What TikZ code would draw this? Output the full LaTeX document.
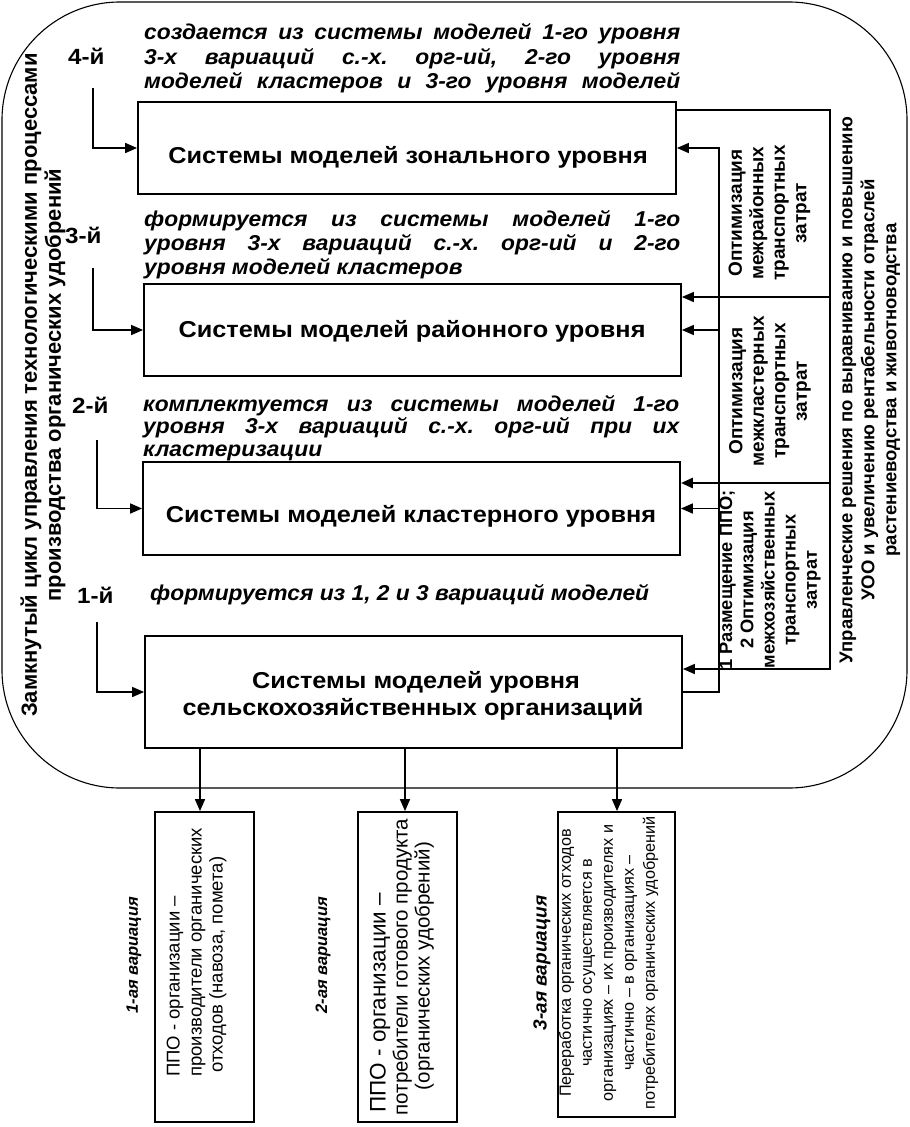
\documentclass[tikz,border=0pt]{standalone}
\usepackage{fontspec}
\setmainfont{Liberation Sans}
\newfontfamily\boxfont{Liberation Sans}[FakeStretch=1.1]
\newfontfamily\italfont{Liberation Sans}[FakeStretch=1.06]
\newfontfamily\lvlfont{Liberation Sans}[FakeStretch=1.1]
\usetikzlibrary{arrows.meta}
\begin{document}
\begin{tikzpicture}[x=1pt,y=-1pt,
  box/.style={draw, line width=1.8pt, inner sep=0pt},
  conn/.style={line width=1.6pt},
  arr/.style={conn, -{Triangle[length=12pt,width=10pt]}},
  thickarr/.style={line width=2.6pt, -{Triangle[length=12pt,width=10pt]}},
  ital/.style={font=\italfont\fontsize{21.5}{25}\selectfont\bfseries\itshape\frenchspacing, inner sep=0pt, anchor=base west},
  lvl/.style={font=\lvlfont\fontsize{22}{25}\selectfont\bfseries, inner sep=0pt, anchor=base west},
  boxtext/.style={font=\boxfont\fontsize{23}{27}\selectfont\bfseries, inner sep=0pt, anchor=base},
  celltext/.style={font=\fontsize{19}{21.5}\selectfont\bfseries, inner sep=0pt, rotate=90, align=center},
  sidetext/.style={font=\fontsize{18.5}{22}\selectfont\bfseries, inner sep=0pt, rotate=90, align=center},
  lefttext/.style={font=\fontsize{22}{24}\selectfont\bfseries, inner sep=0pt, rotate=90, align=center},
  vartext/.style={font=\fontsize{18.5}{21.5}\selectfont, inner sep=0pt, rotate=90},
  varlabel/.style={font=\fontsize{16.5}{20}\selectfont\bfseries\itshape, inner sep=0pt, rotate=90}
]
\useasboundingbox (0,0) rectangle (910,1127);
\fill[white] (0,0) rectangle (910,1127);

% outer frame
\draw[line width=1.1pt, rounded corners=118pt] (2,2) rectangle (907,788);

% main boxes
\node[box, minimum width=538pt, minimum height=92pt] (b4) at (407,148) {};
\node[box, minimum width=537pt, minimum height=92pt] (b3) at (412.5,330) {};
\node[box, minimum width=537pt, minimum height=93pt] (b2) at (411.5,508.5) {};
\node[box, minimum width=537pt, minimum height=112pt] (b1) at (413.5,692) {};

\node[boxtext] (b4t) at (408,163) {Системы моделей зонального уровня};
\node[boxtext] (b3t) at (412,337) {Системы моделей районного уровня};
\node[boxtext] (b2t) at (411,522) {Системы моделей кластерного уровня};
\node[boxtext] (b1t) at (416,688) {Системы моделей уровня};
\node[boxtext] (b1u) at (413,715) {сельскохозяйственных организаций};

% level labels
\node[lvl] (n4) at (68,64) {4-й};
\node[lvl] (n3) at (65,243) {3-й};
\node[lvl] (n2) at (72,413) {2-й};
\node[lvl] (n1) at (77,603) {1-й};

\coordinate (s4) at (93,88);
\coordinate (s3) at (93,268);
\coordinate (s2) at (97,440);
\coordinate (s1) at (97,622);
\draw[arr] (s4) |- (b4.west);
\draw[arr] (s3) |- (b3.west);
\draw[arr] (s2) |- (b2.west);
\draw[arr] (s1) |- (b1.west);

% italic descriptions
\node[ital] (t4a) at (144,39) {\makebox[536pt][s]{создается из системы моделей 1-го уровня}};
\node[ital] (t4b) at (144,64) {\makebox[536pt][s]{3-х вариаций с.-х. орг-ий, 2-го уровня}};
\node[ital] (t4c) at (144,88) {\makebox[536pt][s]{моделей кластеров и 3-го уровня моделей}};

\node[ital] (t3a) at (144,226) {\makebox[536pt][s]{формируется из системы моделей 1-го}};
\node[ital] (t3b) at (144,250) {\makebox[536pt][s]{уровня 3-х вариаций с.-х. орг-ий и 2-го}};
\node[ital] (t3c) at (144,274) {уровня моделей кластеров};

\node[ital] (t2a) at (143,411) {\makebox[536pt][s]{комплектуется из системы моделей 1-го}};
\node[ital] (t2b) at (143,433) {\makebox[536pt][s]{уровня 3-х вариаций с.-х. орг-ий при их}};
\node[ital] (t2c) at (143,456) {кластеризации};

\node[ital] (t1a) at (150,600) {формируется из 1, 2 и 3 вариаций моделей};

% feedback tree A (x = 719)
\coordinate (aTop) at (719,148);
\coordinate (aB3) at (719,330);
\coordinate (aB2) at (719,508.5);
\draw[arr] (b1.east) -| (aTop) -- (aTop -| b4.east);
\draw[arr] (aB3) -- (b3.east);
\draw[arr] (aB2) -- (b2.east);

% feedback tree B (x = 830)
\coordinate (bTop) at (830,110);
\coordinate (bB3) at (830,297);
\coordinate (bB2) at (830,483);
\coordinate (bBot) at (830,669);
\draw[arr] (bTop -| b4.east) -- (bTop) -- (bBot) -- (bBot -| b1.east);
\draw[arr] (bB3) -- (bB3 -| b3.east);
\draw[thickarr] (bB2) -- (bB2 -| b2.east);

% cell texts
\node[celltext] (c1) at (769.5,213) {Оптимизация\\межрайонных\\транспортных\\затрат};
\node[celltext] (c2) at (770,391) {Оптимизация\\межкластерных\\транспортных\\затрат};
\node[celltext, font=\fontsize{18.3}{21.2}\selectfont\bfseries] (c3) at (770,580) {1 Размещение ППО;\\2 Оптимизация\\межхозяйственных\\транспортных\\затрат};

\node[sidetext] (rt) at (870,390) {Управленческие решения по выравниванию и повышению\\УОО и увеличению рентабельности отраслей\\растениеводства и животноводства};

\node[lefttext] (lt) at (43,385) {Замкнутый цикл управления технологическими процессами\\производства органических удобрений};

% bottom boxes
\node[box, minimum width=99pt, minimum height=310pt] (v1) at (204.5,967) {};
\node[box, minimum width=99pt, minimum height=310pt] (v2) at (407.5,967) {};
\node[box, minimum width=117pt, minimum height=305pt] (v3) at (616.5,964.5) {};

\coordinate (x1) at (200,0);
\coordinate (x2) at (405,0);
\coordinate (x3) at (617,0);
\draw[arr] (b1.south -| x1) -- (v1.north -| x1);
\draw[arr] (b1.south -| x2) -- (v2.north -| x2);
\draw[arr] (b1.south -| x3) -- (v3.north -| x3);

\node[vartext, anchor=mid west] (v1a) at (177,1077) {ППО - организации –};
\node[vartext, anchor=mid west] (v1b) at (199,1077) {производители органических};
\node[vartext, anchor=mid west] (v1c) at (220,1073) {отходов (навоза, помета)};

\node[vartext, font=\fontsize{22.5}{24}\selectfont, anchor=mid west] (v2a) at (383,1113) {ППО - организации –};
\node[vartext, font=\fontsize{20.5}{22}\selectfont, anchor=mid] (v2b) at (405,967) {потребители готового продукта};
\node[vartext, font=\fontsize{20.5}{22}\selectfont, anchor=mid] (v2c) at (427,966) {(органических удобрений)};

\node[vartext, font=\fontsize{16.2}{21}\selectfont, align=center] (v3t) at (608.5,963) {Переработка органических отходов\\частично осуществляется в\\организациях – их производителях и\\частично – в организациях –\\потребителях органических удобрений};

\node[varlabel] (l1) at (134,955) {1-ая вариация};
\node[varlabel] (l2) at (323,955) {2-ая вариация};
\node[varlabel, font=\fontsize{19}{21}\selectfont\bfseries\itshape] (l3) at (542,963) {3-ая вариация};
\end{tikzpicture}
\end{document}
